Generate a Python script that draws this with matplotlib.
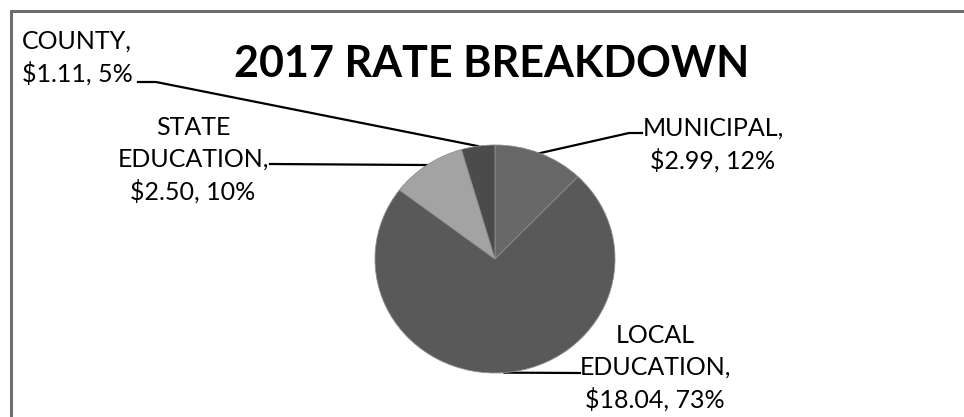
import matplotlib.pyplot as plt
import numpy as np

# chart data
labels = ['MUNICIPAL', 'LOCAL\nEDUCATION', 'STATE\nEDUCATION', 'COUNTY']
amounts = [2.99, 18.04, 2.50, 1.11]
percents = [12, 73, 10, 5]
colors = ['#676767', '#595959', '#a3a3a3', '#4b4b4b']
title = '2017 RATE BREAKDOWN'

W, H = 964, 417
fig = plt.figure(figsize=(W / 100, H / 100), dpi=100)
plt.rcParams['font.family'] = ['Lato', 'DejaVu Sans']

# overlay in pixel coordinates
ax = fig.add_axes([0, 0, 1, 1])
ax.set_xlim(0, W)
ax.set_ylim(H, 0)
ax.axis('off')

# outer border (only top and left visible)
ax.plot([11, 11, W + 5], [H + 5, 11, 11], color='#6e6e6e', lw=2.2,
        solid_joinstyle='miter')

# pie in its own axes (slightly wider than tall, like the source)
cx, cy, rx, ry = 495, 259, 120, 114
pax = fig.add_axes([(cx - rx) / W, (H - cy - ry) / H, 2 * rx / W, 2 * ry / H])
wedges, _ = pax.pie(amounts, colors=colors, startangle=90, counterclock=False,
                    radius=1, wedgeprops=dict(edgecolor='#8c8c8c', linewidth=0.6))
pax.set_aspect('auto')
pax.set_xlim(-1, 1)
pax.set_ylim(-1, 1)
pax.axis('off')

# label layout: (text x, last-line baseline y, line end x, line end y, elbow x)
label_pos = [
    (713, 169, 642, 133, 629),
    (655, 408, 580, 373, 580),
    (193, 200, 270, 164, 270),
    (77, 82, 138, 82, 156),
]

for w, lab, amt, pct, (tx, ty, lx, ly, ex) in zip(wedges, labels, amounts, percents, label_pos):
    mid = np.deg2rad((w.theta1 + w.theta2) / 2)
    px = cx + rx * np.cos(mid)
    py = cy - ry * np.sin(mid)
    ax.plot([px, ex, lx], [py, ly, ly], color='black', lw=1.6)
    txt = '%s,\n$%.2f, %d%%' % (lab, amt, pct)
    ax.text(tx, ty, txt, ha='center', va='baseline', fontsize=18,
            linespacing=1.45, color='black', multialignment='center')

ax.text(492, 77, title, ha='center', va='baseline', fontsize=31,
        fontweight='bold', color='black')

fig.savefig('out.png', dpi=100, facecolor='white')
